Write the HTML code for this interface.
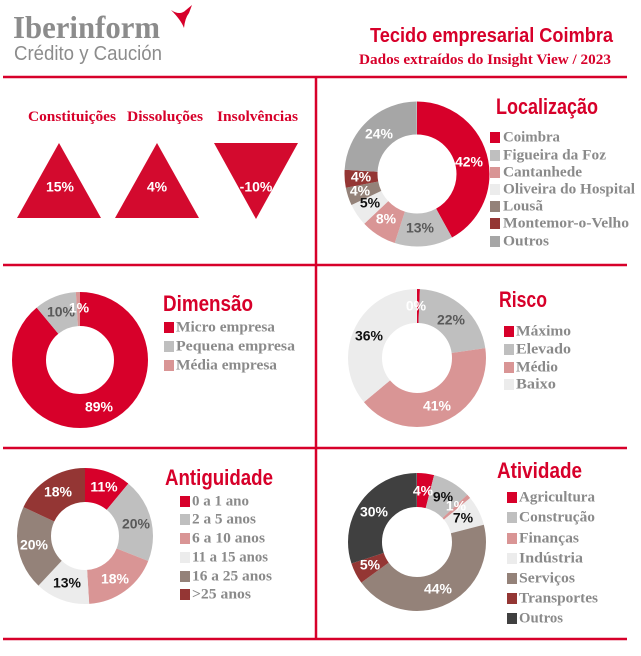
<!DOCTYPE html>
<html><head><meta charset="utf-8"><style>
body{margin:0;width:641px;height:656px;background:#fff;overflow:hidden}
svg{display:block}
.t{font-family:"Liberation Sans",sans-serif;font-weight:bold;fill:#d7002a}
.l{font-family:"Liberation Serif",serif;font-weight:bold;fill:#8a8a8a;font-size:15px;dominant-baseline:middle}
.v{font-family:"Liberation Sans",sans-serif;font-weight:bold;font-size:14px;text-anchor:middle;dominant-baseline:middle}
.w{fill:#fff}.d{fill:#595959}.k{fill:#111}
circle{fill:none}
</style></head><body>
<svg width="641" height="656" viewBox="0 0 641 656">
<!-- logo -->
<text x="13" y="38" font-family="Liberation Serif,serif" font-weight="bold" font-size="32" fill="#8c8c8c" textLength="147" lengthAdjust="spacingAndGlyphs">Iberinform</text>
<text x="14" y="60" font-family="Liberation Sans,sans-serif" font-size="20" fill="#8c8c8c" textLength="148" lengthAdjust="spacingAndGlyphs">Crédito y Caución</text>
<path d="M171 10 Q180 16 186 10 L192 5 L189 13 Q185 18 184 28 Q181 20 171 10 Z" fill="#d7002a"/>
<text class="t" x="370" y="42" font-size="20" textLength="243" lengthAdjust="spacingAndGlyphs">Tecido empresarial Coimbra</text>
<text class="t" x="359" y="64" font-size="15" style="font-family:'Liberation Serif',serif" textLength="252" lengthAdjust="spacingAndGlyphs">Dados extraídos do Insight View / 2023</text>
<!-- grid lines -->
<g stroke="#d7002a" stroke-width="2.5">
<line x1="3" y1="77" x2="627" y2="77"/><line x1="3" y1="265" x2="627" y2="265"/>
<line x1="3" y1="448" x2="627" y2="448"/><line x1="3" y1="639" x2="627" y2="639"/>
<line x1="316" y1="77" x2="316" y2="639"/>
</g>
<!-- triangles -->
<text class="t" x="28" y="121" font-size="15" style="font-family:'Liberation Serif',serif" textLength="88" lengthAdjust="spacingAndGlyphs">Constituições</text>
<text class="t" x="127" y="121" font-size="15" style="font-family:'Liberation Serif',serif" textLength="76" lengthAdjust="spacingAndGlyphs">Dissoluções</text>
<text class="t" x="217" y="121" font-size="15" style="font-family:'Liberation Serif',serif" textLength="81" lengthAdjust="spacingAndGlyphs">Insolvências</text>
<polygon points="59,143 17,218 101,218" fill="#d30a2e"/>
<polygon points="157,143 115,218 199,218" fill="#d30a2e"/>
<polygon points="214,143 298,143 256,219" fill="#d30a2e"/>
<text class="v w" x="60" y="188">15%</text><text class="v w" x="157" y="188">4%</text><text class="v w" x="256" y="188">-10%</text>

<!-- Localização -->
<g transform="translate(417,174) rotate(-90)" stroke-width="33">
<circle r="56" pathLength="100" stroke="#d7002a" stroke-dasharray="42 100" stroke-dashoffset="0"/>
<circle r="56" pathLength="100" stroke="#bfbfbf" stroke-dasharray="13 100" stroke-dashoffset="-42"/>
<circle r="56" pathLength="100" stroke="#d99595" stroke-dasharray="8 100" stroke-dashoffset="-55"/>
<circle r="56" pathLength="100" stroke="#ececec" stroke-dasharray="5 100" stroke-dashoffset="-63"/>
<circle r="56" pathLength="100" stroke="#948279" stroke-dasharray="4 100" stroke-dashoffset="-68"/>
<circle r="56" pathLength="100" stroke="#943634" stroke-dasharray="4 100" stroke-dashoffset="-72"/>
<circle r="56" pathLength="100" stroke="#a6a6a6" stroke-dasharray="24 100" stroke-dashoffset="-76"/>
</g>
<text class="v w" x="469" y="163">42%</text><text class="v d" x="420" y="229">13%</text><text class="v w" x="386" y="220">8%</text>
<text class="v k" x="370" y="204">5%</text><text class="v w" x="360" y="192">4%</text><text class="v w" x="361" y="178">4%</text><text class="v w" x="379" y="135">24%</text>
<text class="t" x="496" y="114" font-size="22" textLength="102" lengthAdjust="spacingAndGlyphs">Localização</text>
<g>
<rect x="490" y="132" width="10" height="11" fill="#d7002a"/><text class="l" x="503" y="138" textLength="57" lengthAdjust="spacingAndGlyphs">Coimbra</text>
<rect x="490" y="150" width="10" height="11" fill="#bfbfbf"/><text class="l" x="503" y="156" textLength="103" lengthAdjust="spacingAndGlyphs">Figueira da Foz</text>
<rect x="490" y="167" width="10" height="11" fill="#d99595"/><text class="l" x="503" y="173" textLength="79" lengthAdjust="spacingAndGlyphs">Cantanhede</text>
<rect x="490" y="184" width="10" height="11" fill="#ececec"/><text class="l" x="503" y="190" textLength="132" lengthAdjust="spacingAndGlyphs">Oliveira do Hospital</text>
<rect x="490" y="201" width="10" height="11" fill="#948279"/><text class="l" x="503" y="207" textLength="40" lengthAdjust="spacingAndGlyphs">Lousã</text>
<rect x="490" y="218" width="10" height="11" fill="#943634"/><text class="l" x="503" y="224" textLength="126" lengthAdjust="spacingAndGlyphs">Montemor-o-Velho</text>
<rect x="490" y="236" width="10" height="11" fill="#a6a6a6"/><text class="l" x="503" y="242" textLength="46" lengthAdjust="spacingAndGlyphs">Outros</text>
</g>

<!-- Dimensão -->
<g transform="translate(80,360) rotate(-90)" stroke-width="34">
<circle r="51" pathLength="100" stroke="#d7002a" stroke-dasharray="89 100" stroke-dashoffset="0"/>
<circle r="51" pathLength="100" stroke="#bfbfbf" stroke-dasharray="10 100" stroke-dashoffset="-89"/>
<circle r="51" pathLength="100" stroke="#d99595" stroke-dasharray="1 100" stroke-dashoffset="-99"/>
</g>
<text class="v w" x="99" y="408">89%</text><text class="v d" x="61" y="313">10%</text><text class="v w" x="79" y="309">1%</text>
<text class="t" x="163" y="311" font-size="22" textLength="90" lengthAdjust="spacingAndGlyphs">Dimensão</text>
<rect x="164" y="322" width="10" height="11" fill="#d7002a"/><text class="l" x="176" y="328" textLength="99" lengthAdjust="spacingAndGlyphs">Micro empresa</text>
<rect x="164" y="341" width="10" height="11" fill="#bfbfbf"/><text class="l" x="176" y="347" textLength="119" lengthAdjust="spacingAndGlyphs">Pequena empresa</text>
<rect x="164" y="360" width="10" height="11" fill="#d99595"/><text class="l" x="176" y="366" textLength="101" lengthAdjust="spacingAndGlyphs">Média empresa</text>

<!-- Risco -->
<g transform="translate(417,358) rotate(-90)" stroke-width="34">
<circle r="52" pathLength="100" stroke="#d7002a" stroke-dasharray="0.7 100" stroke-dashoffset="0"/>
<circle r="52" pathLength="100" stroke="#bfbfbf" stroke-dasharray="22 100" stroke-dashoffset="-0.7"/>
<circle r="52" pathLength="100" stroke="#d99595" stroke-dasharray="41.3 100" stroke-dashoffset="-22.7"/>
<circle r="52" pathLength="100" stroke="#ececec" stroke-dasharray="36 100" stroke-dashoffset="-64"/>
</g>
<text class="v w" x="416" y="307">0%</text><text class="v d" x="451" y="321">22%</text><text class="v k" x="369" y="337">36%</text><text class="v w" x="437" y="407">41%</text>
<text class="t" x="499" y="307" font-size="22" textLength="48" lengthAdjust="spacingAndGlyphs">Risco</text>
<rect x="504" y="326" width="10" height="11" fill="#d7002a"/><text class="l" x="516" y="332" textLength="55" lengthAdjust="spacingAndGlyphs">Máximo</text>
<rect x="504" y="344" width="10" height="11" fill="#bfbfbf"/><text class="l" x="516" y="350" textLength="55" lengthAdjust="spacingAndGlyphs">Elevado</text>
<rect x="504" y="362" width="10" height="11" fill="#d99595"/><text class="l" x="516" y="368" textLength="42" lengthAdjust="spacingAndGlyphs">Médio</text>
<rect x="504" y="379" width="10" height="11" fill="#ececec"/><text class="l" x="516" y="385" textLength="40" lengthAdjust="spacingAndGlyphs">Baixo</text>

<!-- Antiguidade -->
<g transform="translate(85,536) rotate(-90)" stroke-width="34">
<circle r="51" pathLength="100" stroke="#d7002a" stroke-dasharray="11 100" stroke-dashoffset="0"/>
<circle r="51" pathLength="100" stroke="#bfbfbf" stroke-dasharray="20 100" stroke-dashoffset="-11"/>
<circle r="51" pathLength="100" stroke="#d99595" stroke-dasharray="18 100" stroke-dashoffset="-31"/>
<circle r="51" pathLength="100" stroke="#ececec" stroke-dasharray="13 100" stroke-dashoffset="-49"/>
<circle r="51" pathLength="100" stroke="#948279" stroke-dasharray="20 100" stroke-dashoffset="-62"/>
<circle r="51" pathLength="100" stroke="#943634" stroke-dasharray="18 100" stroke-dashoffset="-82"/>
</g>
<text class="v w" x="104" y="488">11%</text><text class="v d" x="136" y="525">20%</text><text class="v w" x="115" y="580">18%</text>
<text class="v k" x="67" y="584">13%</text><text class="v w" x="34" y="546">20%</text><text class="v w" x="58" y="493">18%</text>
<text class="t" x="165" y="485" font-size="22" textLength="108" lengthAdjust="spacingAndGlyphs">Antiguidade</text>
<rect x="180" y="496" width="10" height="11" fill="#d7002a"/><text class="l" x="192" y="502" textLength="57" lengthAdjust="spacingAndGlyphs">0 a 1 ano</text>
<rect x="180" y="514" width="10" height="11" fill="#bfbfbf"/><text class="l" x="192" y="520" textLength="64" lengthAdjust="spacingAndGlyphs">2 a 5 anos</text>
<rect x="180" y="533" width="10" height="11" fill="#d99595"/><text class="l" x="192" y="539" textLength="73" lengthAdjust="spacingAndGlyphs">6 a 10 anos</text>
<rect x="180" y="552" width="10" height="11" fill="#ececec"/><text class="l" x="192" y="558" textLength="76" lengthAdjust="spacingAndGlyphs">11 a 15 anos</text>
<rect x="180" y="571" width="10" height="11" fill="#948279"/><text class="l" x="192" y="577" textLength="80" lengthAdjust="spacingAndGlyphs">16 a 25 anos</text>
<rect x="180" y="589" width="10" height="11" fill="#943634"/><text class="l" x="192" y="595" textLength="59" lengthAdjust="spacingAndGlyphs">&gt;25 anos</text>

<!-- Atividade -->
<g transform="translate(417,542) rotate(-90)" stroke-width="34">
<circle r="52" pathLength="100" stroke="#d7002a" stroke-dasharray="4 100" stroke-dashoffset="0"/>
<circle r="52" pathLength="100" stroke="#bfbfbf" stroke-dasharray="9 100" stroke-dashoffset="-4"/>
<circle r="52" pathLength="100" stroke="#d99595" stroke-dasharray="1 100" stroke-dashoffset="-13"/>
<circle r="52" pathLength="100" stroke="#ececec" stroke-dasharray="7 100" stroke-dashoffset="-14"/>
<circle r="52" pathLength="100" stroke="#948279" stroke-dasharray="44 100" stroke-dashoffset="-21"/>
<circle r="52" pathLength="100" stroke="#943634" stroke-dasharray="5 100" stroke-dashoffset="-65"/>
<circle r="52" pathLength="100" stroke="#404040" stroke-dasharray="30 100" stroke-dashoffset="-70"/>
</g>
<text class="v w" x="423" y="492">4%</text><text class="v k" x="443" y="498">9%</text><text class="v w" x="456" y="507">1%</text>
<text class="v k" x="463" y="519">7%</text><text class="v w" x="374" y="513">30%</text><text class="v w" x="370" y="566">5%</text><text class="v w" x="438" y="590">44%</text>
<text class="t" x="497" y="478" font-size="22" textLength="85" lengthAdjust="spacingAndGlyphs">Atividade</text>
<rect x="507" y="492" width="10" height="11" fill="#d7002a"/><text class="l" x="519" y="498" textLength="76" lengthAdjust="spacingAndGlyphs">Agricultura</text>
<rect x="507" y="512" width="10" height="11" fill="#bfbfbf"/><text class="l" x="519" y="518" textLength="76" lengthAdjust="spacingAndGlyphs">Construção</text>
<rect x="507" y="533" width="10" height="11" fill="#d99595"/><text class="l" x="519" y="539" textLength="60" lengthAdjust="spacingAndGlyphs">Finanças</text>
<rect x="507" y="553" width="10" height="11" fill="#ececec"/><text class="l" x="519" y="559" textLength="64" lengthAdjust="spacingAndGlyphs">Indústria</text>
<rect x="507" y="573" width="10" height="11" fill="#948279"/><text class="l" x="519" y="579" textLength="56" lengthAdjust="spacingAndGlyphs">Serviços</text>
<rect x="507" y="593" width="10" height="11" fill="#943634"/><text class="l" x="519" y="599" textLength="79" lengthAdjust="spacingAndGlyphs">Transportes</text>
<rect x="507" y="613" width="10" height="11" fill="#404040"/><text class="l" x="519" y="619" textLength="44" lengthAdjust="spacingAndGlyphs">Outros</text>
</svg>
</body></html>
